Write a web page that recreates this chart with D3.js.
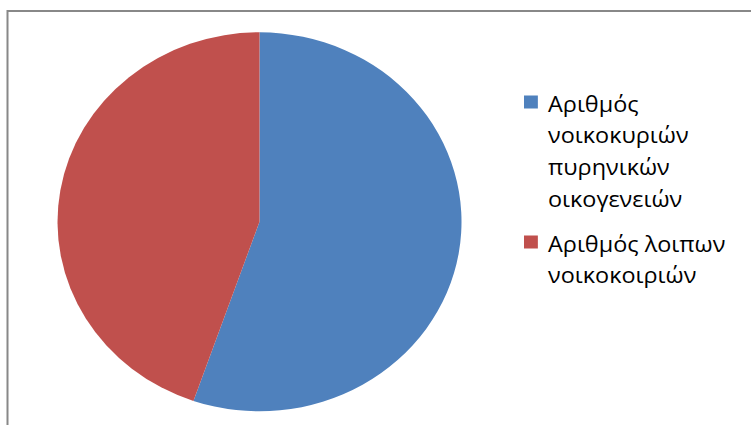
<!DOCTYPE html>
<html>
<head>
<meta charset="utf-8">
<script src="https://cdn.jsdelivr.net/npm/d3@7"></script>
<style>
html,body{margin:0;padding:0;background:#fff;}
svg{display:block;}
</style>
</head>
<body>
<svg id="chart" width="751" height="425"></svg>
<script>
const categories = [
  ["Αριθμός", "νοικοκυριών", "πυρηνικών", "οικογενειών"],
  ["Αριθμός λοιπων", "νοικοκοιριών"]
];
const values = [55.3, 44.7];
const colors = ["#4F81BD", "#C0504D"];

const svg = d3.select("#chart");
// chart border (extends beyond the visible area)
svg.append("rect")
  .attr("x", 7.5).attr("y", 11)
  .attr("width", 800).attr("height", 500)
  .attr("fill", "none").attr("stroke", "#888888").attr("stroke-width", 2);

const cx = 259.5, cy = 221.8, rx = 202, ry = 189.5;
const stretch = rx / ry;
const pie = d3.pie().sort(null).value(d => d);
const arc = d3.arc().innerRadius(0).outerRadius(1);

const g = svg.append("g").attr("transform", `translate(${cx},${cy}) scale(${rx},${ry})`);
g.selectAll("path").data(pie(values)).enter().append("path")
  .attr("d", arc)
  .attr("fill", (d, i) => colors[i]);

const legend = svg.append("g");
const blocks = [{y: 111.5}, {y: 251.5}];
const lineH = 32;
categories.forEach((lines, i) => {
  const by = blocks[i].y;
  legend.append("rect")
    .attr("x", 524).attr("y", by - 16)
    .attr("width", 13 * stretch).attr("height", 13)
    .attr("fill", colors[i]);
  const t = legend.append("g")
    .attr("transform", `translate(548,${by}) scale(${stretch},1)`)
    .append("text")
    .attr("font-family", "'Open Sans', sans-serif")
    .attr("font-size", 22)
    .attr("fill", "#000");
  lines.forEach((s, j) => {
    t.append("tspan").attr("x", 0).attr("y", j * lineH).text(s);
  });
});
</script>
</body>
</html>
